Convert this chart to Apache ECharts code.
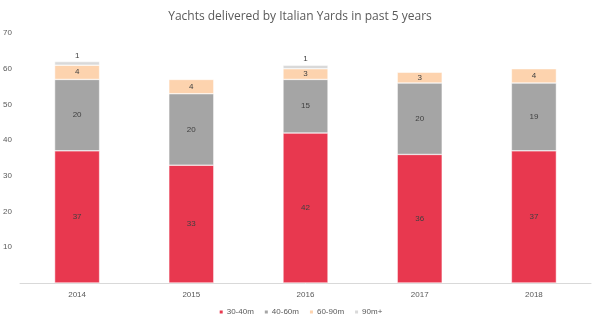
<!DOCTYPE html>
<html><head><meta charset="utf-8">
<script src="https://cdn.jsdelivr.net/npm/echarts@6/dist/echarts.min.js"></script>
<style>html,body{margin:0;padding:0;background:#fff}#c{width:600px;height:326px}</style>
</head><body><div id="c"></div>
<script>
const categories = ['2014','2015','2016','2017','2018'];
const s30_40 = [37,33,42,36,37];
const s40_60 = [20,20,15,20,19];
const s60_90 = [4,4,3,3,4];
const s90p = [1,null,1,null,null];
const seriesNames = ['30-40m','40-60m','60-90m','90m+'];
const yTicks = [0,10,20,30,40,50,60,70];

const chart = echarts.init(document.getElementById('c'));
const font = 'Liberation Sans, Noto Sans, sans-serif';
const lbl = {show:true, color:'#404040', fontSize:8, fontFamily:font};
function mk(name, data, color, labelPos){
  return {name, type:'bar', stack:'t', data, barWidth:45,
    itemStyle:{color, borderColor:'#fff', borderWidth:0.5},
    label:Object.assign({}, lbl, {position:labelPos||'inside', distance:2}),
    emphasis:{disabled:true}};
}
chart.setOption({
  animation:false,
  title:{text:'Yachts delivered by Italian Yards in past 5 years', left:'center', top:6,
    textStyle:{fontSize:12, fontWeight:'normal', color:'#595959', fontFamily:'Open Sans, sans-serif'}},
  legend:{bottom:5, left:'center', itemWidth:5, itemHeight:5, itemGap:9, icon:'rect',
    textStyle:{fontSize:8, color:'#595959', fontFamily:font, padding:[0,0,0,-2]}, data:seriesNames},
  grid:{left:20, right:9, top:33, bottom:43},
  xAxis:{type:'category', data:categories,
    axisLine:{lineStyle:{color:'#d9d9d9'}}, axisTick:{show:false},
    axisLabel:{fontSize:8, color:'#595959', margin:8, fontFamily:font}},
  yAxis:{type:'value', min:yTicks[0], max:yTicks[yTicks.length-1], interval:10,
    splitLine:{show:false}, axisLine:{show:false}, axisTick:{show:false},
    axisLabel:{fontSize:8, color:'#595959', margin:8, fontFamily:font,
      formatter:v=>v===0?'':String(v)}},
  series:[
    mk(seriesNames[0], s30_40, '#e8384f'),
    mk(seriesNames[1], s40_60, '#a5a5a5'),
    mk(seriesNames[2], s60_90, '#fdd3ae'),
    mk(seriesNames[3], s90p, '#d9d9d9', 'top')
  ]
});
</script></body></html>
